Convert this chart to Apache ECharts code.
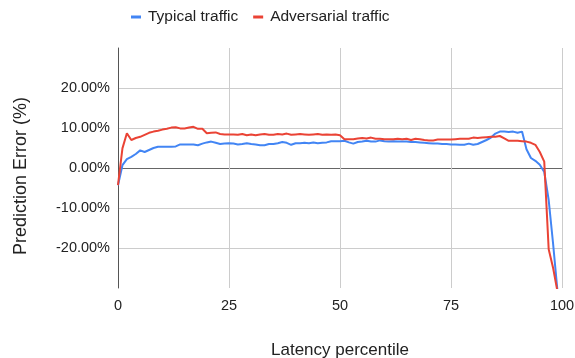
<!DOCTYPE html>
<html>
<head>
<meta charset="utf-8">
<script src="https://cdn.jsdelivr.net/npm/echarts@6/dist/echarts.min.js"></script>
<style>html,body{margin:0;padding:0;background:#fff}#c{width:575px;height:358px}</style>
</head>
<body>
<div id="c"></div>
<script>
const percentiles = Array.from({length: 100}, (_, i) => i);
const typicalTraffic = [
  -4.3, 0.7, 2.2, 2.8, 3.5, 4.4, 4.0, 4.5, 5.0, 5.3,
  5.3, 5.3, 5.3, 5.4, 5.9, 5.9, 5.9, 5.9, 5.7, 6.1,
  6.4, 6.6, 6.3, 6.0, 6.1, 6.2, 6.1, 5.9, 6.0, 6.2,
  6.0, 5.9, 5.7, 5.7, 6.0, 6.0, 6.2, 6.5, 6.3, 5.8,
  6.2, 6.2, 6.3, 6.2, 6.4, 6.2, 6.3, 6.4, 6.7, 6.7,
  6.7, 6.8, 6.4, 6.1, 6.5, 6.6, 6.8, 6.6, 6.6, 6.9,
  6.7, 6.6, 6.7, 6.6, 6.6, 6.6, 6.5, 6.5, 6.4, 6.3,
  6.2, 6.1, 6.1, 6.0, 6.0, 5.9, 5.9, 5.8, 5.8, 6.1,
  5.8, 6.0, 6.5, 7.0, 7.6, 8.6, 9.1, 9.1, 9.0, 9.1,
  8.8, 9.1, 4.7, 2.5, 1.8, 0.8, -1.0, -8.0, -19.0, -31.0
];
const adversarialTraffic = [
  -4.3, 4.9, 8.7, 7.0, 7.5, 7.8, 8.3, 8.8, 9.1, 9.3,
  9.6, 9.8, 10.1, 10.2, 9.9, 9.9, 10.1, 10.3, 9.8, 9.8,
  8.7, 8.8, 8.9, 8.5, 8.4, 8.4, 8.4, 8.3, 8.5, 8.2,
  8.4, 8.2, 8.4, 8.5, 8.3, 8.3, 8.5, 8.4, 8.6, 8.3,
  8.4, 8.5, 8.4, 8.3, 8.4, 8.5, 8.3, 8.4, 8.3, 8.4,
  8.2, 7.2, 7.2, 7.2, 7.4, 7.5, 7.4, 7.6, 7.3, 7.3,
  7.2, 7.2, 7.2, 7.3, 7.2, 7.3, 7.0, 7.3, 7.2, 7.0,
  6.9, 6.9, 7.1, 7.1, 7.1, 7.1, 7.2, 7.3, 7.3, 7.3,
  7.6, 7.5, 7.6, 7.7, 7.8, 7.8, 8.0, 7.4, 6.8, 6.8,
  6.8, 6.7, 6.6, 6.3, 5.8, 4.0, 1.6, -20.3, -25.0, -31.0
];
const xTicks = [0, 25, 50, 75, 100];
const yTicks = [-20, -10, 0, 10, 20];

const font = 'Arial, "Liberation Sans", sans-serif';
const chart = echarts.init(document.getElementById('c'), null, {renderer: 'canvas'});
chart.setOption({
  animation: false,
  textStyle: {fontFamily: font},
  legend: {
    left: 131, top: 9, padding: 0,
    icon: 'rect', itemWidth: 10, itemHeight: 3, itemGap: 15,
    textStyle: {fontSize: 15.5, color: '#222', fontFamily: font, padding: [0, 0, 0, 2]},
    data: ['Typical traffic', 'Adversarial traffic']
  },
  grid: {left: 118, right: 13, top: 48, bottom: 70, containLabel: false, outerBoundsMode: 'none'},
  xAxis: {
    type: 'value', min: 0, max: 100, interval: 25,
    name: 'Latency percentile', nameLocation: 'middle', nameGap: 54, nameMoveOverlap: false,
    nameTextStyle: {fontSize: 17, color: '#222', fontFamily: font},
    axisLine: {show: false}, axisTick: {show: false},
    axisLabel: {fontSize: 14.5, color: '#222', margin: 10, fontFamily: font,
      formatter: v => xTicks.includes(v) ? String(v) : ''},
    splitLine: {show: true, showMinLine: false, showMaxLine: true, lineStyle: {color: '#ccc', width: 1}}
  },
  yAxis: {
    type: 'value', min: -30, max: 30, interval: 10,
    name: 'Prediction Error (%)', nameLocation: 'middle', nameGap: 88, nameMoveOverlap: false,
    nameTextStyle: {fontSize: 18, color: '#222', fontFamily: font, padding: [0, 16, 0, 0]},
    axisLine: {show: true, onZero: false, lineStyle: {color: '#555', width: 1}},
    axisTick: {show: false},
    axisLabel: {fontSize: 14.5, color: '#222', margin: 8, fontFamily: font,
      formatter: v => yTicks.includes(v) ? v.toFixed(2) + '%' : ''},
    splitLine: {show: true, showMinLine: false, showMaxLine: false,
      lineStyle: {color: ['#ccc', '#ccc', '#666', '#ccc', '#ccc'], width: 1}}
  },
  series: [
    {name: 'Typical traffic', type: 'line', showSymbol: false, symbol: 'none', clip: true,
      data: percentiles.map((p, i) => [p, typicalTraffic[i]]),
      itemStyle: {color: '#4285F4'}, lineStyle: {color: '#4285F4', width: 2}},
    {name: 'Adversarial traffic', type: 'line', showSymbol: false, symbol: 'none', clip: true,
      data: percentiles.map((p, i) => [p, adversarialTraffic[i]]),
      itemStyle: {color: '#EA4335'}, lineStyle: {color: '#EA4335', width: 2}}
  ]
});
</script>
</body>
</html>
